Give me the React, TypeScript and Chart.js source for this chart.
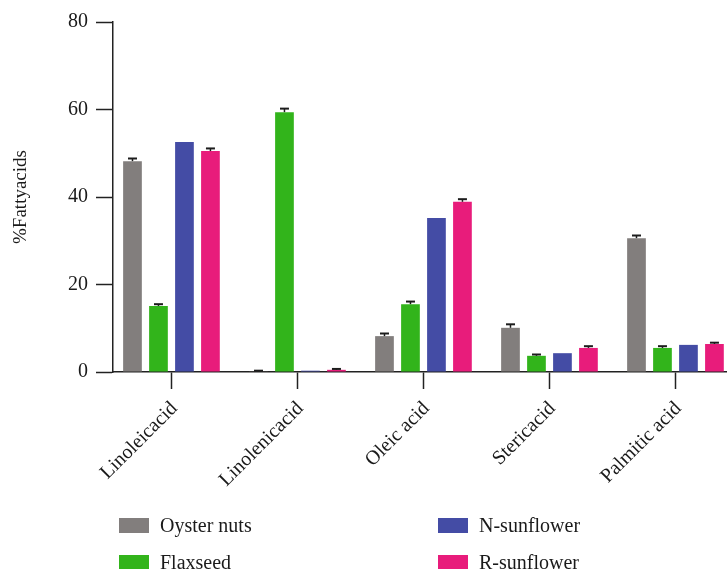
import React, { useEffect, useRef } from "react";
import { Chart, registerables } from "chart.js";

Chart.register(...registerables);

const categories = ["Linoleicacid", "Linolenicacid", "Oleic acid", "Stericacid", "Palmitic acid"];
const seriesNames = ["Oyster nuts", "Flaxseed", "N-sunflower", "R-sunflower"];
const seriesColors = ["#827e7d", "#32b41b", "#444ca5", "#e81c7b"];

const oysterNuts = [48.2, 0.15, 8.2, 10.1, 30.6];
const flaxseed = [15.1, 59.4, 15.5, 3.7, 5.5];
const nSunflower = [52.6, 0.3, 35.2, 4.3, 6.2];
const rSunflower = [50.5, 0.5, 38.9, 5.5, 6.4];

const oysterNutsErr = [0.6, 0.15, 0.6, 0.8, 0.6];
const flaxseedErr = [0.4, 0.8, 0.6, 0.3, 0.4];
const nSunflowerErr = [0, 0, 0, 0, 0];
const rSunflowerErr = [0.6, 0.2, 0.6, 0.4, 0.3];

const yTicks = [0, 20, 40, 60, 80];
const yTitle = "%Fattyacids";

const seriesValues = [oysterNuts, flaxseed, nSunflower, rSunflower];
const seriesErrors = [oysterNutsErr, flaxseedErr, nSunflowerErr, rSunflowerErr];

const FONT = "'Liberation Serif', 'DejaVu Serif', serif";
const TEXT = "#1a1a1a";

const errorBarPlugin = {
  id: "errorBars",
  afterDatasetsDraw(chart: any) {
    const ctx = chart.ctx;
    const yScale = chart.scales.y;
    chart.data.datasets.forEach((ds: any, i: number) => {
      const meta = chart.getDatasetMeta(i);
      const errs = seriesErrors[i];
      meta.data.forEach((bar: any, j: number) => {
        const err = errs[j];
        if (!err || err <= 0) return;
        const v = seriesValues[i][j];
        const yTop = yScale.getPixelForValue(v + err);
        const yBase = yScale.getPixelForValue(v);
        ctx.save();
        ctx.strokeStyle = "#1c1c1c";
        ctx.lineWidth = 1.5;
        ctx.beginPath();
        ctx.moveTo(bar.x, yBase);
        ctx.lineTo(bar.x, yTop);
        ctx.stroke();
        ctx.lineWidth = 2;
        ctx.beginPath();
        ctx.moveTo(bar.x - 4.5, yTop);
        ctx.lineTo(bar.x + 4.5, yTop);
        ctx.stroke();
        ctx.restore();
      });
    });
  },
};

const legendPlugin = {
  id: "gridLegend",
  afterDraw(chart: any) {
    const ctx = chart.ctx;
    const colX = [119, 438];
    const rowY = [518, 555];
    // column-major order: col 0 -> series 0,1 ; col 1 -> series 2,3
    chart.data.datasets.forEach((ds: any, i: number) => {
      const col = Math.floor(i / 2);
      const row = i % 2;
      const x = colX[col];
      const y = rowY[row];
      ctx.save();
      ctx.fillStyle = ds.backgroundColor;
      ctx.fillRect(x, y, 30, 15);
      ctx.fillStyle = TEXT;
      ctx.font = `20px ${FONT}`;
      ctx.textAlign = "left";
      ctx.textBaseline = "alphabetic";
      ctx.fillText(ds.label, x + 41, y + 13.5);
      ctx.restore();
    });
  },
};

export default function App() {
  const canvasRef = useRef<HTMLCanvasElement | null>(null);

  useEffect(() => {
    if (!canvasRef.current) return;
    const chart = new Chart(canvasRef.current, {
      type: "bar",
      data: {
        datasets: seriesNames.map((name, i) => ({
          label: name,
          data: seriesValues[i].map((v, j) => ({ x: j, y: v })),
          backgroundColor: seriesColors[i],
          borderWidth: 0,
          barPercentage: 0.72,
          categoryPercentage: 0.825,
        })),
      },
      options: {
        responsive: false,
        animation: false,
        layout: { padding: { top: 22, right: 0, left: 0, bottom: 0 } },
        plugins: {
          legend: { display: false },
          tooltip: { enabled: false },
        },
        scales: {
          x: {
            type: "linear",
            offset: false,
            min: -0.464,
            max: 4.409,
            afterBuildTicks(scale: any) {
              scale.ticks = categories.map((_, i) => ({ value: i }));
            },
            grid: {
              offset: false,
              drawOnChartArea: false,
              tickLength: 17,
              tickColor: "#222",
              tickWidth: 1.5,
            },
            border: { color: "#222", width: 1.5 },
            ticks: {
              maxRotation: 45,
              minRotation: 45,
              padding: 8,
              labelOffset: 3,
              color: TEXT,
              font: { family: FONT, size: 20 },
              autoSkip: false,
              callback: (v: any) => categories[Math.round(Number(v))] ?? "",
            },
            afterFit(scale: any) {
              scale.height = 569 - 372;
            },
          },
          y: {
            min: 0,
            max: 80,
            afterBuildTicks(scale: any) {
              scale.ticks = yTicks.map((v) => ({ value: v }));
            },
            grid: {
              drawOnChartArea: false,
              tickLength: 17,
              tickColor: "#222",
              tickWidth: 1.5,
            },
            border: { color: "#222", width: 1.5 },
            ticks: {
              padding: 8,
              color: TEXT,
              font: { family: FONT, size: 20 },
            },
            title: {
              display: true,
              text: yTitle,
              color: TEXT,
              font: { family: FONT, size: 19 },
              padding: { top: 10, bottom: 0 },
            },
            afterFit(scale: any) {
              scale.width = 113;
            },
          },
        },
      },
      plugins: [errorBarPlugin, legendPlugin],
    });
    return () => chart.destroy();
  }, []);

  return (
    <div
      style={{
        position: "absolute",
        left: 0,
        top: 0,
        width: 727,
        height: 569,
        overflow: "hidden",
        background: "#fff",
      }}
    >
      <canvas ref={canvasRef} width={727} height={569} style={{ display: "block" }} />
    </div>
  );
}
